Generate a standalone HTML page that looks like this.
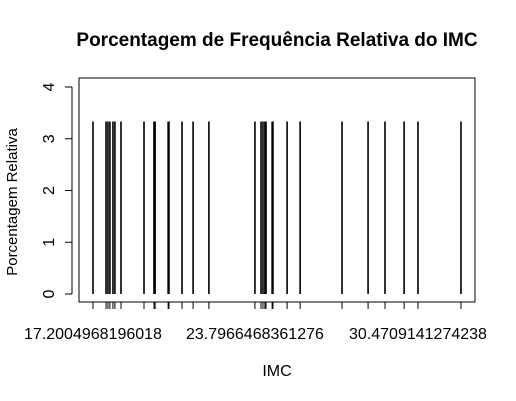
<!DOCTYPE html>
<html><head><meta charset="utf-8"><style>body{margin:0;background:#fff}svg{display:block;font-family:"Liberation Sans",sans-serif}</style></head>
<body>
<svg id="c" width="516" height="401" xmlns="http://www.w3.org/2000/svg">
<text x="277" y="46" text-anchor="middle" font-size="19" font-weight="bold">Porcentagem de Frequência Relativa do IMC</text>
<text x="277" y="376" text-anchor="middle" font-size="16">IMC</text>
<text transform="translate(17,202) rotate(-90)" text-anchor="middle" font-size="15">Porcentagem Relativa</text>
<rect x="79" y="78" width="396" height="224" fill="none" stroke="#000"/>
<g id="marks"></g>
</svg>
<script>
const imcValues=[17.20,17.67,17.74,17.81,17.92,17.99,18.21,19.04,19.40,19.44,19.91,19.94,20.41,20.81,21.38,23.04,23.26,23.33,23.40,23.44,23.66,23.69,24.20,24.67,26.18,27.12,27.73,28.42,28.92,30.47];
const percentValues=[3.333,3.333,3.333,3.333,3.333,3.333,3.333,3.333,3.333,3.333,3.333,3.333,3.333,3.333,3.333,3.333,3.333,3.333,3.333,3.333,3.333,3.333,3.333,3.333,3.333,3.333,3.333,3.333,3.333,3.333];
const yTicks=[0,1,2,3,4];
const xLabelIdx=[0,15,28];
const xLabelText=["17.2004968196018","23.7966468361276","30.4709141274238"];
const NS="http://www.w3.org/2000/svg";
const g=document.getElementById('marks');
const xs=v=>93+(v-17.2005)*(461-93)/(30.4709-17.2005);
const ys=v=>294-v*(294-87)/4;
function mk(t,a){const e=document.createElementNS(NS,t);for(const k in a)e.setAttribute(k,a[k]);g.appendChild(e);return e;}
imcValues.forEach((v,i)=>{
 const x=xs(v);
 const l=mk('line',{x1:x,x2:x,y1:ys(0),y2:ys(percentValues[i]),stroke:'#000','stroke-width':1.6});
 
 
 const t=mk('line',{x1:x,x2:x,y1:302,y2:309,stroke:'#000'});
 
 
});
mk('line',{x1:xs(imcValues[0]),x2:xs(imcValues[imcValues.length-1]),y1:302,y2:302,stroke:'#000'});
xLabelIdx.forEach((idx,j)=>{
 const t=mk('text',{x:xs(imcValues[idx]),y:339,'text-anchor':'middle','font-size':16});
 t.textContent=xLabelText[j];
 
 
});
mk('line',{x1:72,x2:72,y1:ys(0),y2:ys(4),stroke:'#000'});
yTicks.forEach(v=>{
 const y=ys(v);
 const tk=mk('line',{x1:65,x2:72,y1:y,y2:y,stroke:'#000'});
 
 
 const t=mk('text',{transform:`translate(54,${y}) rotate(-90)`,'text-anchor':'middle','font-size':16});
 t.textContent=v;
 
 
});
</script>
</body></html>
